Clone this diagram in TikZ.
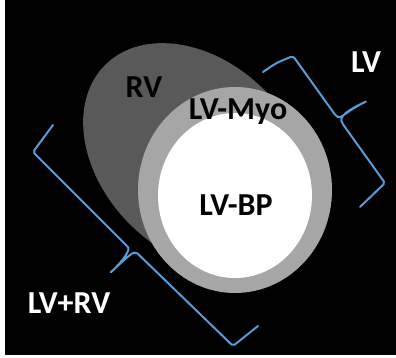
\documentclass[tikz,border=0pt]{standalone}
\usepackage{fontspec}
\setmainfont{Carlito}
\usepackage{xcolor}
\usepackage{tikz}
\usetikzlibrary{calc}
\definecolor{rvgray}{HTML}{595959}
\definecolor{myogray}{HTML}{A6A6A6}
\definecolor{bracket}{HTML}{5B9BD5}

\begin{document}
\begin{tikzpicture}[x=1pt,y=-1pt]
	\tikzstyle{lab}=[font=\fontsize{32}{38}\selectfont\bfseries, inner sep=0pt, anchor=base]
	\tikzstyle{brace}=[draw=bracket, line width=2pt, line join=round, line cap=round, rounded corners=2pt]
	\useasboundingbox (0,0) rectangle (396,358);
	\fill[white] (0,0) rectangle (396,358);
	\fill[black] (5,0) rectangle (396,355);
	% the three chambers
	\fill[rvgray, rotate around={-45:(197,157)}] (197,157) ellipse [x radius=130pt, y radius=95pt];
	\fill[myogray] (235,190) ellipse [x radius=97pt, y radius=103pt];
	\fill[white] (235,195.5) ellipse [x radius=77pt, y radius=82.5pt];
	% labels
	\node[lab, text=black] (rv)   at (144,98)  {RV};
	\node[lab, text=black] (myo)  at (238,120) {LV-Myo};
	\node[lab, text=black] (bp)   at (236,215) {LV-BP};
	\node[lab, text=white] (lv)   at (366,73)  {LV};
	\node[lab, text=white] (lvrv) at (69,313)  {LV+RV};
	% braces
	\draw[brace] (263,72) .. controls (276,63) .. (293,56) -- (336,116)
		.. controls (341,119) and (345,112) .. (367,101)
		.. controls (348,110) and (340,116) .. (342,123) -- (385,183) -- (360,207);
	\draw[brace] (53,125) -- (33,152) -- (127,246)
		.. controls (130,250) and (124,260) .. (110,273)
		.. controls (122,262) and (130,254) .. (136,252) -- (233,346) -- (258,326);
\end{tikzpicture}
\end{document}
